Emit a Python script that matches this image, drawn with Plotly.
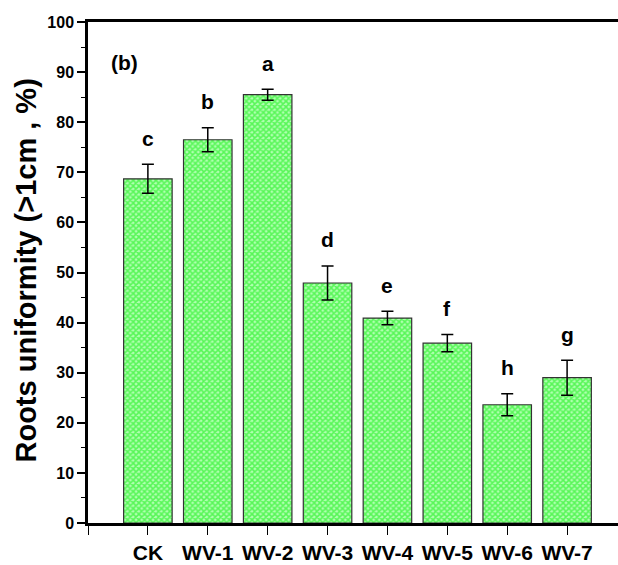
import plotly.graph_objects as go

categories = ["CK", "WV-1", "WV-2", "WV-3", "WV-4", "WV-5", "WV-6", "WV-7"]
values = [68.7, 76.5, 85.5, 47.9, 40.9, 35.9, 23.6, 29.0]
errors = [2.9, 2.4, 1.1, 3.4, 1.35, 1.7, 2.2, 3.5]
letters = ["c", "b", "a", "d", "e", "f", "h", "g"]
y_ticks = [0, 10, 20, 30, 40, 50, 60, 70, 80, 90, 100]

xpos = list(range(len(categories)))

fig = go.Figure()
fig.add_trace(go.Bar(
    x=xpos, y=values,
    width=0.81,
    marker=dict(
        color="#A8FFA8",
        line=dict(color="#333333", width=1.2),
        pattern=dict(shape="x", fgcolor="#00EE00", bgcolor="#B0FFB0", size=4, solidity=0.62),
    ),
    error_y=dict(type="data", array=errors, visible=True, color="black", thickness=1.5, width=6),
    showlegend=False,
))

font_bold = "Liberation Sans"

annotations = []
for x, v, e, t in zip(xpos, values, errors, letters):
    annotations.append(dict(
        x=x, y=v + e + 5.2, xref="x", yref="y", text="<b>%s</b>" % t,
        showarrow=False, yanchor="middle",
        font=dict(family=font_bold, size=21, color="black"),
    ))
annotations.append(dict(
    x=0.0, y=0.92, xref="paper", yref="paper", text="<b>(b)</b>",
    xanchor="left", xshift=21, yanchor="middle", showarrow=False,
    font=dict(family=font_bold, size=21, color="black"),
))
annotations.append(dict(
    x=0.0, y=0.5, xref="paper", yref="paper", text="<b>Roots uniformity (>1cm , %)</b>",
    textangle=-90, xanchor="center", yanchor="middle", xshift=-63, yshift=2, showarrow=False,
    font=dict(family=font_bold, size=29, color="black"),
))

fig.update_layout(
    width=618, height=565,
    margin=dict(l=88, r=0, t=22, b=42),
    plot_bgcolor="white", paper_bgcolor="white",
    annotations=annotations,
    xaxis=dict(
        range=[-1, 7.85],
        tickvals=[-1] + xpos,
        ticktext=[""] + ["<b>%s</b>" % c for c in categories],
        ticks="outside", ticklen=9, tickwidth=1.2, tickcolor="black",
        showline=True, linecolor="black", linewidth=2.5, mirror=True,
        showgrid=False, zeroline=False,
        tickfont=dict(family=font_bold, size=21, color="black"),
        automargin=False,
    ),
    yaxis=dict(
        range=[0, 100],
        tickvals=y_ticks,
        ticktext=["<b>%d</b>" % t for t in y_ticks],
        ticks="outside", ticklen=8, tickwidth=1.5, tickcolor="black",
        minor=dict(dtick=5, ticks="outside", ticklen=4, tickwidth=1.2, tickcolor="black"),
        showline=True, linecolor="black", linewidth=2.5,
        showgrid=False, zeroline=False,
        tickfont=dict(family=font_bold, size=16, color="black"),
        automargin=False,
    ),
)

fig.write_html(
    "out.html",
    config={"displayModeBar": False},
    post_script="document.body.style.margin='0px';document.body.style.overflow='hidden';",
)
